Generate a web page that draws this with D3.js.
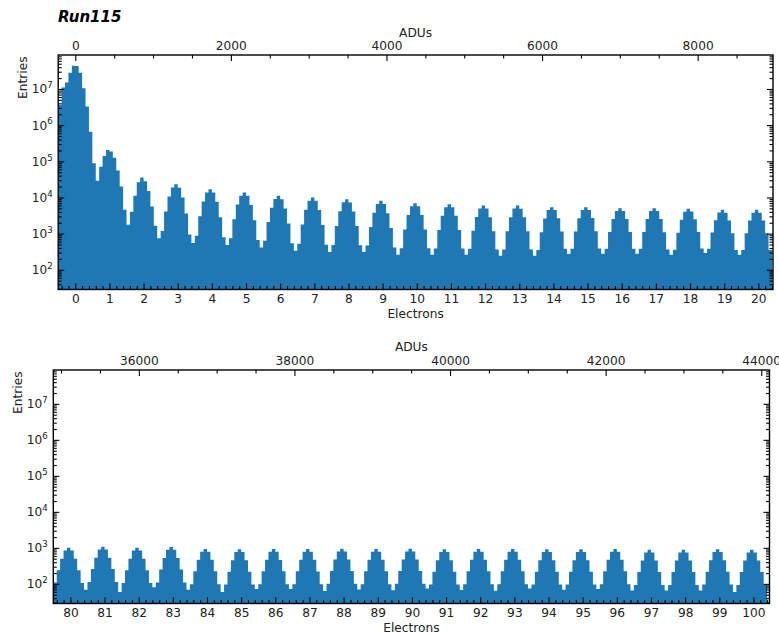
<!DOCTYPE html>
<html><head><meta charset="utf-8">
<script src="https://cdn.jsdelivr.net/npm/d3@7"></script>
<style>
body{margin:0;background:#fff;}
svg{display:block;font-family:"DejaVu Sans",sans-serif;}
</style></head><body>
<svg id="chart" width="779" height="633"></svg>
<script>
const title = "Run115";
const adcPerElectron = 439;
const binWidth = 0.1;

// Top panel: histogram of pixel values, bins of 0.1 e starting at -0.5 e
const topFirstEdge = -0.5;
const topCounts = [
3.6e6, 1.1e7, 1.5e7, 2.8e7, 4.4e7, 4.3e7, 2.8e7, 1.05e7, 3.3e6, 6.6e5,
8.9e4, 2.9e4, 7.1e4, 1.4e5, 2.05e5, 1.86e5, 1.26e5, 5.6e4, 2.0e4, 4600,
1750, 4000, 11200, 26300, 35900, 28200, 15100, 5600, 1660, 741,
1183, 4093, 10620, 18920, 23280, 18660, 10000, 3606, 951, 547,
869, 3000, 7745, 13770, 16940, 13710, 7568, 2851, 796, 484,
750, 2512, 6339, 11140, 13650, 11070, 6152, 2350, 668, 413,
631, 2080, 5200, 9078, 11070, 8974, 4989, 1905, 542, 335,
526, 1791, 4571, 8091, 9931, 8072, 4498, 1730, 495, 308,
482, 1629, 4150, 7328, 8974, 7300, 4120, 1620, 480, 308,
468, 1531, 3802, 6607, 8054, 6546, 3681, 1422, 413, 259,
396, 1309, 3266, 5715, 6966, 5700, 3250, 1300, 396, 259,
389, 1262, 3105, 5370, 6531, 5350, 3100, 1255, 389, 259,
379, 1197, 2884, 4932, 5970, 4920, 2851, 1167, 363, 244,
363, 1167, 2851, 4920, 5970, 4900, 2840, 1160, 363, 244,
353, 1099, 2624, 4467, 5395, 4487, 2679, 1151, 381, 272,
381, 1151, 2679, 4487, 5395, 4480, 2692, 1159, 386, 277,
379, 1117, 2553, 4227, 5058, 4220, 2550, 1115, 379, 277,
379, 1117, 2553, 4227, 5058, 4207, 2523, 1086, 362, 259,
358, 1059, 2438, 4036, 4842, 4064, 2483, 1109, 387, 289,
380, 1069, 2360, 3819, 4539, 3802, 2312, 1021, 352, 259,
352, 1021, 2312, 3802, 4539, 3800, 2310, 1020, 352
];

// Bottom panel: bins of 0.1 e starting at 79.5 e
const bottomFirstEdge = 79.5;
const bottomCounts = [
110, 240, 500, 840, 1000, 840, 500, 240, 105, 69,
112, 257, 535, 899, 1070, 899, 535, 257, 112, 59,
105, 240, 500, 840, 1000, 840, 500, 240, 105, 81,
110, 252, 525, 882, 1050, 882, 525, 252, 110, 69,
98, 223, 465, 781, 930, 781, 465, 223, 98, 59,
96, 218, 455, 764, 910, 764, 455, 218, 96, 72,
97, 225, 470, 778, 930, 781, 462, 223, 98, 72,
98, 223, 465, 781, 930, 781, 465, 220, 97, 63,
100, 228, 475, 798, 950, 798, 475, 228, 100, 70,
98, 223, 465, 781, 930, 781, 465, 223, 98, 66,
100, 228, 475, 798, 950, 798, 475, 228, 100, 74,
96, 218, 455, 764, 910, 764, 455, 218, 96, 68,
98, 223, 465, 781, 930, 781, 465, 223, 98, 64,
98, 223, 465, 781, 930, 781, 465, 223, 98, 74,
96, 218, 455, 764, 910, 764, 455, 218, 96, 69,
96, 218, 455, 764, 910, 764, 455, 218, 96, 72,
98, 223, 465, 781, 930, 781, 465, 223, 98, 65,
93, 214, 445, 748, 890, 748, 445, 214, 93, 65,
93, 214, 445, 748, 890, 748, 445, 214, 93, 65,
96, 218, 455, 764, 910, 764, 455, 218, 96, 59,
93, 214, 445, 748, 890, 748, 445, 214, 93
];

const yTickValues = [1e2, 1e3, 1e4, 1e5, 1e6, 1e7];
const yDomain = [28.5, 8.7e7];
const topElectronTicks = [0,1,2,3,4,5,6,7,8,9,10,11,12,13,14,15,16,17,18,19,20];
const topAduTicks = [0, 2000, 4000, 6000, 8000];
const bottomElectronTicks = [80,81,82,83,84,85,86,87,88,89,90,91,92,93,94,95,96,97,98,99,100];
const bottomAduTicks = [36000, 38000, 40000, 42000, 44000];
const xLabel = "Electrons", aduLabel = "ADUs", yLabel = "Entries";

const svg = d3.select("#chart");
const FS = 12.2;
const barColor = "#1f77b4";

svg.append("text").attr("x", 58).attr("y", 22)
  .attr("font-size", 15).attr("font-weight", "bold").attr("font-style", "italic")
  .text(title);

function drawPanel(p, idx) {
  const x = d3.scaleLinear().domain(p.xDomain).range([p.left, p.right]);
  const adu = d3.scaleLinear().domain(p.xDomain.map(v => v * adcPerElectron)).range([p.left, p.right]);
  const y = d3.scaleLog().domain(yDomain).range([p.bottom, p.top]);
  const g = svg.append("g");

  const clipId = "clip" + idx;
  svg.append("clipPath").attr("id", clipId).append("rect")
    .attr("x", p.left).attr("y", p.top).attr("width", p.right - p.left).attr("height", p.bottom - p.top);

  const pts = p.counts.map((c, i) => [p.firstEdge + i * binWidth, c]);
  pts.push([p.firstEdge + p.counts.length * binWidth, p.counts[p.counts.length - 1]]);
  const area = d3.area().curve(d3.curveStepAfter)
    .x(d => x(d[0])).y0(p.bottom).y1(d => y(d[1]));
  g.append("path").datum(pts).attr("d", area).attr("fill", barColor)
    .attr("clip-path", `url(#${clipId})`);

  const styleAxis = sel => {
    sel.select(".domain").remove();
    sel.selectAll(".tick line").attr("stroke", "#000").attr("stroke-width", 1.1);
    sel.selectAll(".tick text").attr("font-size", FS).attr("fill", "#222").attr("font-family", '"DejaVu Sans", sans-serif');
  };

  const xMinor = [];
  for (let v = Math.ceil(p.xDomain[0] * 5) / 5; v <= p.xDomain[1] + 1e-9; v += 0.2) {
    const r = Math.round(v * 5) / 5;
    if (Math.abs(r - Math.round(r)) > 1e-6) xMinor.push(r);
  }
  g.append("g").attr("transform", `translate(0,${p.bottom})`)
    .call(d3.axisBottom(x).tickValues(p.eTicks).tickFormat(d3.format("d")).tickSize(-6).tickSizeOuter(0).tickPadding(4.5))
    .call(styleAxis);
  g.append("g").attr("transform", `translate(0,${p.bottom})`)
    .call(d3.axisBottom(x).tickValues(xMinor).tickFormat("").tickSize(-3.5).tickSizeOuter(0))
    .call(styleAxis);

  const aDom = adu.domain();
  const aMinor = d3.range(Math.ceil(aDom[0] / 500) * 500, aDom[1], 500).filter(v => v % 2000 !== 0);
  g.append("g").attr("transform", `translate(0,${p.top})`)
    .call(d3.axisTop(adu).tickValues(p.aTicks).tickFormat(d3.format("d")).tickSize(-6).tickSizeOuter(0).tickPadding(5))
    .call(styleAxis);
  g.append("g").attr("transform", `translate(0,${p.top})`)
    .call(d3.axisTop(adu).tickValues(aMinor).tickFormat("").tickSize(-3.5).tickSizeOuter(0))
    .call(styleAxis);

  const yMinor = [];
  for (let e = 1; e <= 7; e++) for (let m = 2; m <= 9; m++) {
    const v = m * Math.pow(10, e);
    if (v >= yDomain[0] && v <= yDomain[1]) yMinor.push(v);
  }
  const yl = g.append("g").attr("transform", `translate(${p.left},0)`)
    .call(d3.axisLeft(y).tickValues(yTickValues).tickFormat(d => "").tickSize(-6).tickSizeOuter(0).tickPadding(5.5))
    .call(styleAxis);
  yl.selectAll(".tick text").each(function(d) {
    const t = d3.select(this);
    t.attr("dy", "0.32em");
    t.append("tspan").text("10");
    t.append("tspan").attr("font-size", 8.6).attr("dy", "-5.2").text(String(Math.round(Math.log10(d))));
  });
  g.append("g").attr("transform", `translate(${p.left},0)`)
    .call(d3.axisLeft(y).tickValues(yMinor).tickFormat("").tickSize(-3.5).tickSizeOuter(0))
    .call(styleAxis);
  g.append("g").attr("transform", `translate(${p.right},0)`)
    .call(d3.axisRight(y).tickValues(yTickValues).tickFormat("").tickSize(-6).tickSizeOuter(0))
    .call(styleAxis);
  g.append("g").attr("transform", `translate(${p.right},0)`)
    .call(d3.axisRight(y).tickValues(yMinor).tickFormat("").tickSize(-3.5).tickSizeOuter(0))
    .call(styleAxis);

  g.append("rect").attr("x", p.left).attr("y", p.top)
    .attr("width", p.right - p.left).attr("height", p.bottom - p.top)
    .attr("fill", "none").attr("stroke", "#000").attr("stroke-width", 1.4);

  const cx = (p.left + p.right) / 2;
  g.append("text").attr("x", cx).attr("y", p.xLabelY).attr("text-anchor", "middle")
    .attr("font-size", FS).attr("fill", "#222").text(xLabel);
  g.append("text").attr("x", cx).attr("y", p.aLabelY).attr("text-anchor", "middle")
    .attr("font-size", FS).attr("fill", "#222").text(aduLabel);
  g.append("text").attr("transform", `translate(${p.yLabelX},${p.top + 1.5}) rotate(-90)`)
    .attr("text-anchor", "end").attr("font-size", FS).attr("fill", "#222").text(yLabel);
}

drawPanel({
  left: 58.2, right: 773, top: 55, bottom: 289.5,
  xDomain: [-0.5, 20.43], firstEdge: topFirstEdge, counts: topCounts,
  eTicks: topElectronTicks, aTicks: topAduTicks,
  xLabelY: 318, aLabelY: 36.5, yLabelX: 26.7
}, 0);

drawPanel({
  left: 53.3, right: 769.5, top: 370, bottom: 603.5,
  xDomain: [79.5, 100.47], firstEdge: bottomFirstEdge, counts: bottomCounts,
  eTicks: bottomElectronTicks, aTicks: bottomAduTicks,
  xLabelY: 631.5, aLabelY: 350.5, yLabelX: 21.8
}, 1);
</script>
</body></html>
